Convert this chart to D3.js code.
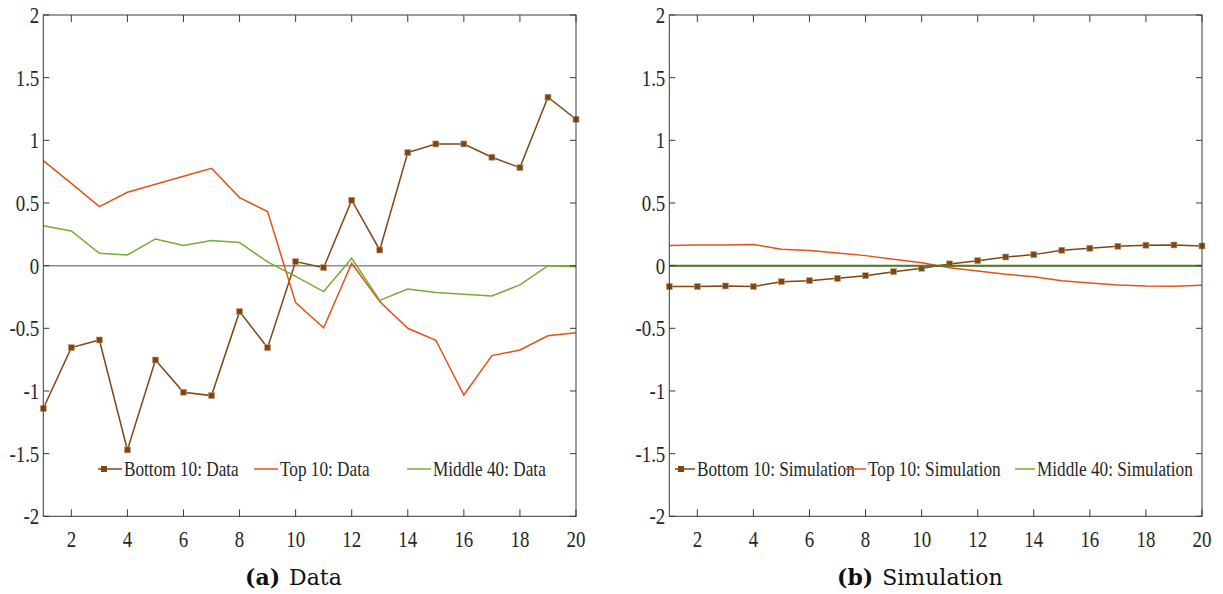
<!DOCTYPE html>
<html>
<head>
<meta charset="utf-8">
<script src="https://cdn.jsdelivr.net/npm/d3@7"></script>
<style>
  body { margin: 0; background: #fff; }
  svg { display: block; }
</style>
</head>
<body>
<div id="chart"></div>
<script>
// horizons 1..20
const periods = d3.range(1, 21);
const xTicks = [2, 4, 6, 8, 10, 12, 14, 16, 18, 20];
const yTicks = [-2, -1.5, -1, -0.5, 0, 0.5, 1, 1.5, 2];

// (a) Data
const bottomData = [-1.14, -0.654, -0.593, -1.47, -0.753, -1.01, -1.037, -0.367, -0.654, 0.032,
  -0.016, 0.522, 0.125, 0.902, 0.971, 0.971, 0.865, 0.782, 1.344, 1.168];
const topData = [0.838, 0.657, 0.471, 0.586, 0.65, 0.713, 0.777, 0.543, 0.431, -0.295,
  -0.495, 0.019, -0.287, -0.5, -0.595, -1.032, -0.718, -0.673, -0.559, -0.535];
const middleData = [0.319, 0.277, 0.099, 0.085, 0.213, 0.16, 0.2, 0.184, 0.03, -0.085,
  -0.207, 0.059, -0.277, -0.186, -0.215, -0.229, -0.242, -0.154, 0.0, -0.008];

// (b) Simulation
const bottomSim = [-0.167, -0.167, -0.162, -0.167, -0.128, -0.12, -0.101, -0.08, -0.048, -0.021,
  0.014, 0.04, 0.069, 0.088, 0.123, 0.139, 0.155, 0.163, 0.165, 0.157];
const topSim = [0.16, 0.165, 0.165, 0.168, 0.131, 0.12, 0.101, 0.08, 0.051, 0.024,
  -0.016, -0.042, -0.069, -0.088, -0.12, -0.138, -0.154, -0.162, -0.164, -0.157];
const middleSim = [0, 0, 0, 0, 0, 0, 0, 0, 0, 0, 0, 0, 0, 0, 0, 0, 0, 0, 0, 0];

const BROWN = "#7f4614";
const RED = "#e2521d";
const GREEN = "#77ac30";
const SX = 0.82; // the original text is horizontally squeezed

const width = 1223, height = 594;
const svg = d3.select("#chart").append("svg")
  .attr("width", width)
  .attr("height", height);

function squeezedText(g, x, y, str, size, anchor) {
  return g.append("text")
    .attr("transform", `translate(${x},${y}) scale(${SX},1)`)
    .attr("text-anchor", anchor)
    .style("font-family", "'Liberation Serif', 'Times New Roman', serif")
    .style("font-size", size + "px")
    .style("fill", "#262626")
    .text(str);
}

function drawPanel(p) {
  const x = d3.scaleLinear().domain([1, 20]).range([p.left, p.right]);
  const y = d3.scaleLinear().domain([-2, 2]).range([516.3, 15]);
  const g = svg.append("g");

  // zero reference line
  g.append("line")
    .attr("x1", x(1)).attr("x2", x(20))
    .attr("y1", y(0)).attr("y2", y(0))
    .attr("stroke", "#8c8c8c")
    .attr("stroke-width", 1.5);

  const line = d3.line()
    .x((d, i) => x(periods[i]))
    .y((d) => y(d));

  p.series.forEach((s) => {
    g.append("path")
      .datum(s.values)
      .attr("fill", "none")
      .attr("stroke", s.plotColor || s.color)
      .attr("stroke-width", s.width || 1.5)
      .attr("d", line);

    if (s.marker) {
      g.selectAll(null)
        .data(s.values)
        .enter()
        .append("rect")
        .attr("x", (d, i) => x(periods[i]) - 3)
        .attr("y", (d) => y(d) - 3)
        .attr("width", 6)
        .attr("height", 6)
        .attr("fill", s.color)
        .attr("stroke", "#c9a27e")
        .attr("stroke-width", 0.6);
    }
  });

  // box
  g.append("rect")
    .attr("x", x(1)).attr("y", y(2))
    .attr("width", x(20) - x(1))
    .attr("height", y(-2) - y(2))
    .attr("fill", "none")
    .attr("stroke", "#3a3a3a")
    .attr("stroke-width", 1);

  // inward ticks on all sides
  xTicks.forEach((t) => {
    g.append("line")
      .attr("x1", x(t)).attr("x2", x(t))
      .attr("y1", y(-2)).attr("y2", y(-2) - 7)
      .attr("stroke", "#3a3a3a");
    g.append("line")
      .attr("x1", x(t)).attr("x2", x(t))
      .attr("y1", y(2)).attr("y2", y(2) + 7)
      .attr("stroke", "#3a3a3a");
    squeezedText(g, x(t), 547, String(t), 23, "middle");
  });
  yTicks.forEach((t) => {
    g.append("line")
      .attr("x1", x(1)).attr("x2", x(1) + 6)
      .attr("y1", y(t)).attr("y2", y(t))
      .attr("stroke", "#3a3a3a");
    g.append("line")
      .attr("x1", x(20)).attr("x2", x(20) - 6)
      .attr("y1", y(t)).attr("y2", y(t))
      .attr("stroke", "#3a3a3a");
    squeezedText(g, x(1) - 4, y(t) + 8, String(t), 23, "end");
  });

  // legend
  const ly = 469;
  p.series.forEach((s, i) => {
    const lx = p.legendX[i];
    g.append("line")
      .attr("x1", lx).attr("x2", lx + p.legendLen)
      .attr("y1", ly).attr("y2", ly)
      .attr("stroke", s.color)
      .attr("stroke-width", 1.5);
    if (s.marker) {
      g.append("rect")
        .attr("x", lx + 6 - 3).attr("y", ly - 3)
        .attr("width", 6).attr("height", 6)
        .attr("fill", s.color);
    }
    squeezedText(g, lx + p.legendLen + 2, ly + 7, s.name, 21, "start");
  });

  // caption
  const cap = g.append("text")
    .attr("x", p.captionX)
    .attr("y", 585)
    .style("font-family", "'DejaVu Serif', serif")
    .style("font-size", "22px")
    .style("fill", "#111");
  cap.append("tspan").style("font-weight", "bold").text(p.tag);
  cap.append("tspan").attr("dx", 9).style("font-weight", "300").text(p.caption);
}

drawPanel({
  left: 43.3, right: 576,
  tag: "(a)", caption: "Data", captionX: 245,
  legendX: [98, 254, 407], legendLen: 24,
  series: [
    { name: "Bottom 10: Data", values: bottomData, color: BROWN, marker: true },
    { name: "Top 10: Data", values: topData, color: RED },
    { name: "Middle 40: Data", values: middleData, color: GREEN },
  ],
});

drawPanel({
  left: 669.3, right: 1202,
  tag: "(b)", caption: "Simulation", captionX: 837,
  legendX: [675, 846, 1015], legendLen: 20,
  series: [
    { name: "Bottom 10: Simulation", values: bottomSim, color: BROWN, marker: true },
    { name: "Top 10: Simulation", values: topSim, color: RED },
    { name: "Middle 40: Simulation", values: middleSim, color: GREEN, plotColor: "#4f7a28", width: 2 },
  ],
});
</script>
</body>
</html>
